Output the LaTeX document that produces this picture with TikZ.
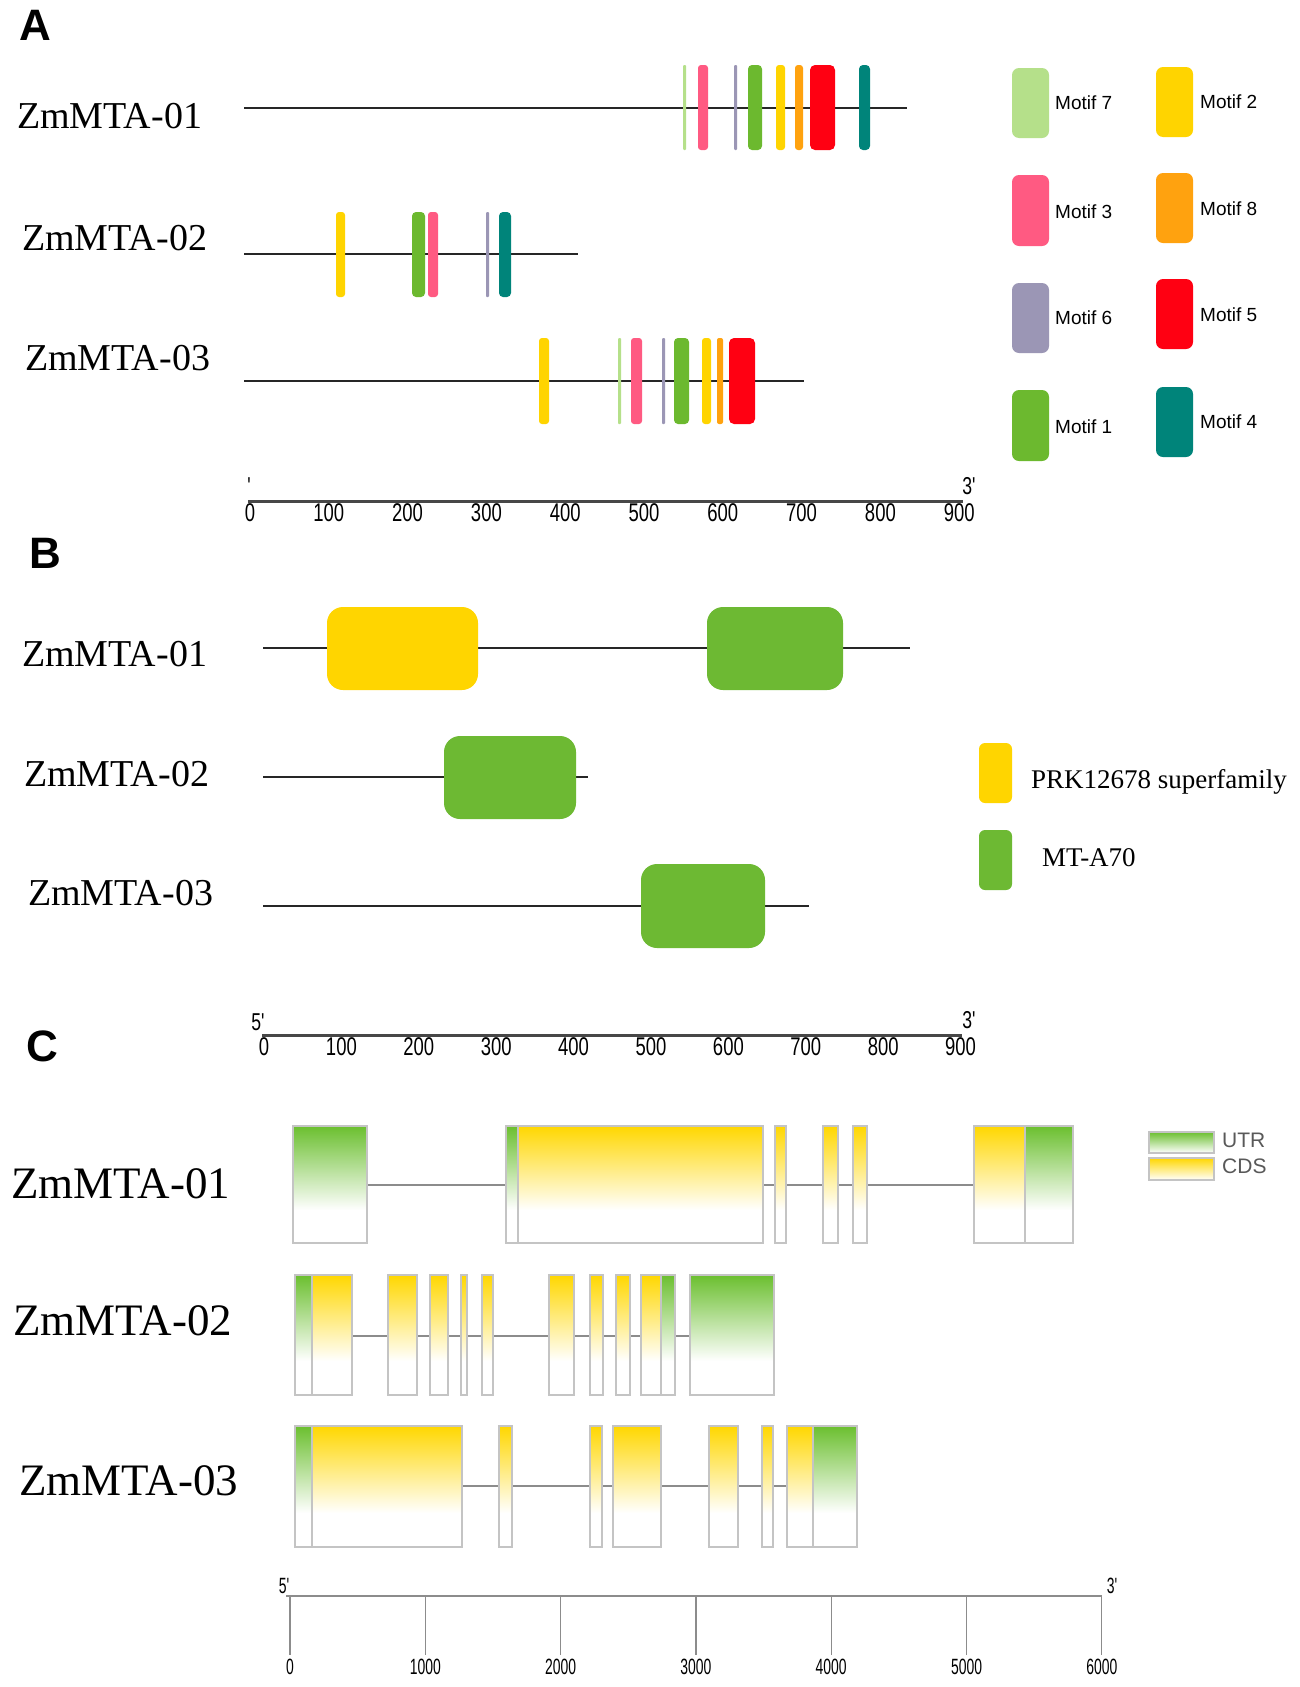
\documentclass[tikz,border=0pt]{standalone}
\usepackage{graphicx}
\usepackage{fontspec}
\setmainfont{Liberation Serif}
\newfontfamily\arialf{Liberation Sans}
\definecolor{m1}{HTML}{6CB92F}
\definecolor{m2}{HTML}{FFD400}
\definecolor{m3}{HTML}{FF5A82}
\definecolor{m4}{HTML}{00847A}
\definecolor{m5}{HTML}{FF0012}
\definecolor{m6}{HTML}{9B96B5}
\definecolor{m7}{HTML}{B5E08A}
\definecolor{m8}{HTML}{FFA20F}
\definecolor{dyel}{HTML}{FFD500}
\definecolor{dgrn}{HTML}{6DB933}
\definecolor{utrc}{HTML}{6BBF2F}
\definecolor{cdsc}{HTML}{FFD700}
\definecolor{exb}{HTML}{C4C4C4}
\definecolor{intr}{HTML}{8C8C8C}
\newcommand\axn[1]{\scalebox{0.88}[1.22]{#1}}
\newcommand\axc[1]{\scalebox{0.82}[1.3]{#1}}
\newcommand\exon[6]{%
  \shade[top color=#6, bottom color=white] (#1,#3) rectangle (#2,#4);
  \draw[exonline] (#1,#3) rectangle (#2,#5);}
\begin{document}
\begin{tikzpicture}[x=1pt,y=-1pt,
  gname/.style={anchor=base west, inner sep=0pt, font=\fontsize{38}{40}\selectfont},
  gnamec/.style={anchor=base west, inner sep=0pt, font=\fontsize{45}{47}\selectfont},
  panel/.style={anchor=base west, inner sep=0pt, font=\arialf\bfseries\fontsize{44}{46}\selectfont},
  backbone/.style={line width=2.2pt, black!85},
  axisline/.style={line width=3pt, black!72},
  axnum/.style={inner sep=0pt, anchor=north, font=\arialf\fontsize{21}{23}\selectfont},
  prime/.style={inner sep=0pt, font=\arialf\fontsize{20}{22}\selectfont},
  legtxt/.style={anchor=west, inner sep=0pt, font=\arialf\fontsize{19}{21}\selectfont},
  legtxtb/.style={anchor=west, inner sep=0pt, font=\fontsize{27}{29}\selectfont},
  exonline/.style={draw=exb, line width=1.3pt},
  intron/.style={draw=intr, line width=2.2pt},
  cleg/.style={anchor=west, inner sep=0pt, text=black!65, font=\arialf\fontsize{21}{23}\selectfont},
  caxis/.style={draw=intr, line width=1.3pt},
  caxnum/.style={inner sep=0pt, anchor=north, font=\arialf\fontsize{17}{19}\selectfont},
]
\useasboundingbox (0,0) rectangle (1299,1687);
\fill[white] (0,0) rectangle (1299,1687);

%%%%%%%%%%%%%%%% Panel A
\node[panel] (pA) at (19,40) {A};
\node[gname] (a1) at (17,128) {ZmMTA-01};
\node[gname] (a2) at (22,250) {ZmMTA-02};
\node[gname] (a3) at (25,370) {ZmMTA-03};

\coordinate (a1s) at (244,108); \coordinate (a1e) at (907,108);
\coordinate (a2s) at (244,254); \coordinate (a2e) at (578,254);
\coordinate (a3s) at (244,381); \coordinate (a3e) at (804,381);
\draw[backbone] (a1s) -- (a1e);
\draw[backbone] (a2s) -- (a2e);
\draw[backbone] (a3s) -- (a3e);

% ZmMTA-01 motifs
\fill[m7, rounded corners=1pt] (683,65) rectangle (686,150);
\fill[m3, rounded corners=3pt] (698,65) rectangle (708,150);
\fill[m6, rounded corners=1pt] (734,65) rectangle (737,150);
\fill[m1, rounded corners=4pt] (748,65) rectangle (762,150);
\fill[m2, rounded corners=3pt] (776,65) rectangle (785,150);
\fill[m8, rounded corners=3pt] (795,65) rectangle (803,150);
\fill[m5, rounded corners=5pt] (810,65) rectangle (835,150);
\fill[m4, rounded corners=4pt] (859,65) rectangle (870,150);
% ZmMTA-02 motifs
\fill[m2, rounded corners=3pt] (336,212) rectangle (345,297);
\fill[m1, rounded corners=4pt] (412,212) rectangle (425,297);
\fill[m3, rounded corners=3pt] (428,212) rectangle (438,297);
\fill[m6, rounded corners=1pt] (486,212) rectangle (489,297);
\fill[m4, rounded corners=4pt] (499,212) rectangle (511,297);
% ZmMTA-03 motifs
\fill[m2, rounded corners=3pt] (539,338) rectangle (549,424);
\fill[m7, rounded corners=1pt] (618,338) rectangle (621,424);
\fill[m3, rounded corners=3pt] (631,338) rectangle (642,424);
\fill[m6, rounded corners=1pt] (662,338) rectangle (665,424);
\fill[m1, rounded corners=4pt] (674,338) rectangle (689,424);
\fill[m2, rounded corners=3pt] (702,338) rectangle (711,424);
\fill[m8, rounded corners=2pt] (717,338) rectangle (723,424);
\fill[m5, rounded corners=5pt] (729,338) rectangle (755,424);

% legend A
\fill[m7, rounded corners=7pt] (1012,68) rectangle (1049,138);
\node[legtxt] (l7) at (1055,103) {Motif 7};
\fill[m3, rounded corners=7pt] (1012,175) rectangle (1049,246);
\node[legtxt] (l3) at (1055,212) {Motif 3};
\fill[m6, rounded corners=7pt] (1012,283) rectangle (1049,353);
\node[legtxt] (l6) at (1055,318) {Motif 6};
\fill[m1, rounded corners=7pt] (1012,390) rectangle (1049,461);
\node[legtxt] (l1) at (1055,427) {Motif 1};
\fill[m2, rounded corners=7pt] (1156,67) rectangle (1193,137);
\node[legtxt] (l2) at (1200,102) {Motif 2};
\fill[m8, rounded corners=7pt] (1156,173) rectangle (1193,243);
\node[legtxt] (l8) at (1200,209) {Motif 8};
\fill[m5, rounded corners=7pt] (1156,279) rectangle (1193,349);
\node[legtxt] (l5) at (1200,315) {Motif 5};
\fill[m4, rounded corners=7pt] (1156,387) rectangle (1193,457);
\node[legtxt] (l4) at (1200,422) {Motif 4};

% axis A
\coordinate (axAs) at (248,501); \coordinate (axAe) at (963,501);
\draw[axisline] (axAs) -- (axAe);
\foreach \lab [count=\i from 0] in {0,100,200,300,400,500,600,700,800,900}
  \node[axnum] (axa\i) at ({250+\i*78.8},503) {\axn{\lab}};
\node[prime] (axA5) at (249,486) {\axn{'}};
\node[prime] (axA3) at (969,486) {\axn{3'}};

%%%%%%%%%%%%%%%% Panel B
\node[panel] (pB) at (29,568) {B};
\node[gname] (b1) at (22,666) {ZmMTA-01};
\node[gname] (b2) at (24,786) {ZmMTA-02};
\node[gname] (b3) at (28,905) {ZmMTA-03};

\coordinate (b1s) at (263,648); \coordinate (b1e) at (910,648);
\coordinate (b2s) at (263,777); \coordinate (b2e) at (588,777);
\coordinate (b3s) at (263,906); \coordinate (b3e) at (809,906);
\draw[backbone] (b1s) -- (b1e);
\draw[backbone] (b2s) -- (b2e);
\draw[backbone] (b3s) -- (b3e);

\fill[dyel, rounded corners=16pt] (327,607) rectangle (478,690);
\fill[dgrn, rounded corners=16pt] (707,607) rectangle (843,690);
\fill[dgrn, rounded corners=16pt] (444,736) rectangle (576,819);
\fill[dgrn, rounded corners=16pt] (641,864) rectangle (765,948);

\fill[dyel, rounded corners=6pt] (979,743) rectangle (1012,803);
\node[legtxtb] (lprk) at (1031,782) {PRK12678 superfamily};
\fill[dgrn, rounded corners=6pt] (979,830) rectangle (1012,890);
\node[legtxtb] (lmt) at (1042,858) {MT-A70};

% axis B
\coordinate (axBs) at (262,1035); \coordinate (axBe) at (962,1035);
\draw[axisline] (axBs) -- (axBe);
\foreach \lab [count=\i from 0] in {0,100,200,300,400,500,600,700,800,900}
  \node[axnum] (axb\i) at ({264+\i*77.4},1037) {\axn{\lab}};
\node[prime] (axB5) at (258,1022) {\axn{5'}};
\node[prime] (axB3) at (969,1020) {\axn{3'}};

%%%%%%%%%%%%%%%% Panel C
\node[panel] (pC) at (26,1061) {C};
\node[gnamec] (c1) at (11,1198) {ZmMTA-01};
\node[gnamec] (c2) at (13,1335) {ZmMTA-02};
\node[gnamec] (c3) at (19,1495) {ZmMTA-03};

% gene 1
\coordinate (g1s) at (293,1185); \coordinate (g1e) at (1073,1185);
\draw[intron] (g1s) -- (g1e);
\exon{293}{367}{1126}{1210}{1243}{utrc}
\exon{506}{518}{1126}{1210}{1243}{utrc}
\exon{518}{763}{1126}{1210}{1243}{cdsc}
\exon{775}{786}{1126}{1210}{1243}{cdsc}
\exon{823}{838}{1126}{1210}{1243}{cdsc}
\exon{853}{867}{1126}{1210}{1243}{cdsc}
\exon{974}{1025}{1126}{1210}{1243}{cdsc}
\exon{1025}{1073}{1126}{1210}{1243}{utrc}

% gene 2
\coordinate (g2s) at (295,1336); \coordinate (g2e) at (774,1336);
\draw[intron] (g2s) -- (g2e);
\exon{295}{312}{1275}{1361}{1395}{utrc}
\exon{312}{352}{1275}{1361}{1395}{cdsc}
\exon{388}{417}{1275}{1361}{1395}{cdsc}
\exon{430}{448}{1275}{1361}{1395}{cdsc}
\exon{461}{467}{1275}{1361}{1395}{cdsc}
\exon{482}{493}{1275}{1361}{1395}{cdsc}
\exon{549}{574}{1275}{1361}{1395}{cdsc}
\exon{590}{603}{1275}{1361}{1395}{cdsc}
\exon{616}{630}{1275}{1361}{1395}{cdsc}
\exon{641}{661}{1275}{1361}{1395}{cdsc}
\exon{661}{675}{1275}{1361}{1395}{utrc}
\exon{690}{774}{1275}{1361}{1395}{utrc}

% gene 3
\coordinate (g3s) at (295,1486); \coordinate (g3e) at (857,1486);
\draw[intron] (g3s) -- (g3e);
\exon{295}{312}{1426}{1513}{1547}{utrc}
\exon{312}{462}{1426}{1513}{1547}{cdsc}
\exon{499}{512}{1426}{1513}{1547}{cdsc}
\exon{590}{602}{1426}{1513}{1547}{cdsc}
\exon{613}{661}{1426}{1513}{1547}{cdsc}
\exon{709}{738}{1426}{1513}{1547}{cdsc}
\exon{762}{773}{1426}{1513}{1547}{cdsc}
\exon{787}{813}{1426}{1513}{1547}{cdsc}
\exon{813}{857}{1426}{1513}{1547}{utrc}

% legend C
\exon{1149}{1214}{1132}{1153}{1153}{utrc}
\node[cleg] (lutr) at (1222,1140) {UTR};
\exon{1149}{1214}{1158}{1180}{1180}{cdsc}
\node[cleg] (lcds) at (1222,1166) {CDS};

% axis C
\coordinate (axCs) at (286,1596); \coordinate (axCe) at (1102,1596);
\draw[caxis] (axCs) -- (axCe);
\foreach \lab [count=\i from 0] in {0,1000,2000,3000,4000,5000,6000} {
  \coordinate (ct\i) at ({290+\i*135.3},1596);
  \coordinate (cb\i) at ({290+\i*135.3},1655);
  \draw[caxis] (ct\i) -- (cb\i);
  \node[caxnum] (axc\i) at ({290+\i*135.3},1659) {\axc{\lab}};
}
\node[prime, font=\arialf\fontsize{17}{19}\selectfont] (axC5) at (284,1586) {\axc{5'}};
\node[prime, font=\arialf\fontsize{17}{19}\selectfont] (axC3) at (1112,1586) {\axc{3'}};
\end{tikzpicture}
\end{document}
